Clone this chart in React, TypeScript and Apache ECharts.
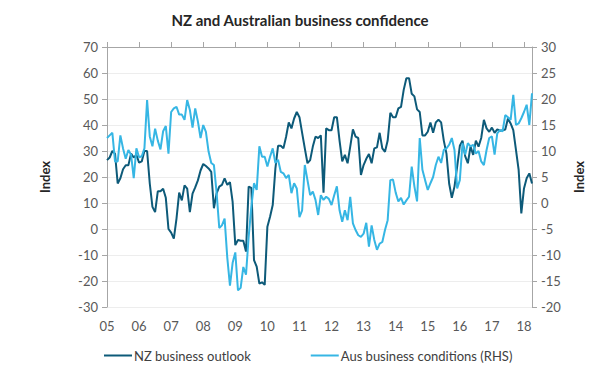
import React, { useEffect, useRef } from 'react';
import * as echarts from 'echarts';

const TITLE = 'NZ and Australian business confidence';
const YEAR_LABELS = ['05', '06', '07', '08', '09', '10', '11', '12', '13', '14', '15', '16', '17', '18'];
const SERIES_NAMES = ['NZ business outlook', 'Aus business conditions (RHS)'];
const AXIS_NAME = 'Index';

// NZ business outlook (left axis), monthly Jan 2005 - Apr 2018
const NZ_OUTLOOK = [
  26.5, 27.5, 30, 29, 17.5, 19.5, 23, 24.5, 24.5, 29, 27.5, 28.5,
  25.5, 26, 30, 30, 17.5, 8.5, 6.5, 14.5, 14.5, 15.5, 12, 0,
  -1.4, -3.7, 4, 14, 11, 16.8, 15.5, 6.5, 13.6, 16, 18.7, 22.5,
  25, 24.2, 23.3, 22, 8, 13.7, 16.3, 17, 19.5, 17, 18, 10.4,
  -6.2, -4.2, -4.5, -4.5, -8.7, 16.3, 15.8, -12, -14.5, -21, -20.5, -21.5,
  0.9, 4.7, 9.2, 23.3, 32, 32, 31, 35.5, 41, 38.7, 42.5, 45,
  43, 37, 31, 25.3, 26.5, 31.7, 35.5, 35, 36, 14, 38.7, 38,
  38, 43, 43, 34, 26, 28.5, 25.3, 31.7, 38.3, 35.5, 35, 20.8,
  24.6, 27, 28.8, 25.3, 31, 31.4, 37, 31, 29.7, 34, 44.7, 43,
  43, 46.4, 47, 53.5, 58, 58, 52, 51, 46, 45, 36, 36,
  37.4, 41, 37, 41, 42, 41, 34, 29, 17.5, 12, 16.3, 24,
  32, 34, 28, 25.3, 31.7, 28.5, 34, 31.7, 35, 42, 38.7, 37.4,
  39, 37, 38.3, 37.8, 38, 38.3, 42.5, 40.6, 38, 30.4, 22.7, 6,
  15.6, 19.5, 21.4, 17.5,
];

// Aus business conditions (right axis), monthly Jan 2005 - Apr 2018
const AUS_CONDITIONS = [
  12.5, 13, 13.5, 8, 8, 13, 10.5, 8.5, 10.2, 9.3, 4.8, 10.5,
  8.8, 9, 10.5, 19.8, 12.8, 10.9, 14.3, 12, 10.3, 13.8, 14.8, 9.5,
  17.5, 18.2, 18.5, 17, 17, 16, 19.8, 17.9, 14.5, 18.2, 15.7, 12.5,
  15, 13.7, 9.9, 7.7, 7.3, 2, -4.8, -4.3, -3, -10.5, -15.9, -11.5,
  -9.5, -16.8, -16.3, -12.3, -13.8, -6.5, -0.7, 3.8, 2.5, 10.9, 8.9, 8.9,
  7, 8.9, 10.5, 7.7, 8.3, 6, 5.7, 4.8, 5.4, 1.9, 3.8, 2.8,
  -2.7, -1.4, 7.3, 4.4, 1.5, 2.2, 0.6, -2.3, 1.5, 0.6, 1.2, 0.8,
  -0.4, 1.5, 3.2, -1.4, -3.6, -1.4, -3.3, 1.2, -3.9, -5.2, -6.2, -6.5,
  -5.9, -3.8, -8.4, -4.3, -7.1, -9, -7.8, -7.5, -5.2, -3.3, 4.4, 4.5,
  2, 0.3, 1, -0.3, 0.5, 1.2, 7, 3.2, 0.3, 12.5, 6.4, 4.4,
  2.5, 3.8, 5, 7.3, 8.9, 7.7, 10.2, 10.5, 11.2, 12.5, 10.2, 2.8,
  4.4, 11.5, 9.3, 11.5, 10.9, 11.2, 9.5, 10, 8, 7.3, 10.2, 12.5,
  12.8, 9.3, 13.4, 14, 13.8, 16.9, 16.5, 16, 20.8, 15, 15.3, 16.3,
  17.5, 18.9, 15, 21.1,
];

const MONTHS = NZ_OUTLOOK.map(
  (_, i) => `${2005 + Math.floor(i / 12)}-${String((i % 12) + 1).padStart(2, '0')}`
);

const FONT = 'Lato';
const AXIS_GREY = '#a6a6a6';
const LABEL_COLOR = '#595959';

export default function App() {
  const ref = useRef<HTMLDivElement>(null);

  useEffect(() => {
    const chart = echarts.init(ref.current!, null, { renderer: 'svg' });
    const yearTick = (i: number) => i % 12 === 0;
    chart.setOption({
      animation: false,
      textStyle: { fontFamily: FONT },
      title: {
        text: TITLE,
        left: 'center',
        top: 7,
        textStyle: { fontFamily: FONT, fontSize: 15, fontWeight: 'bold', color: '#262626' },
      },
      legend: {
        left: 99,
        top: 344,
        itemWidth: 28,
        itemHeight: 2,
        itemGap: 60,
        icon: 'rect',
        textStyle: { fontFamily: FONT, fontSize: 13, color: '#404040', padding: [0, 0, 0, -3] },
        data: SERIES_NAMES,
      },
      grid: { left: 107, right: 68, top: 47, bottom: 63 },
      xAxis: [
        {
          type: 'category',
          data: MONTHS,
          position: 'top',
          boundaryGap: false,
          axisLine: { show: true, onZero: false, lineStyle: { color: AXIS_GREY, width: 1 } },
          axisTick: { show: true, interval: yearTick, length: 5, lineStyle: { color: AXIS_GREY } },
          axisLabel: { show: false },
          splitLine: { show: false },
        },
        {
          type: 'category',
          data: MONTHS,
          position: 'bottom',
          boundaryGap: false,
          axisLine: { show: false, onZero: false },
          axisTick: { show: false },
          axisLabel: {
            interval: yearTick,
            margin: 12,
            fontFamily: FONT,
            fontSize: 13,
            color: LABEL_COLOR,
            formatter: (v: string) => YEAR_LABELS[Number(v.slice(0, 4)) - 2005],
          },
          splitLine: { show: false },
        },
      ],
      yAxis: [
        {
          type: 'value',
          min: -30,
          max: 70,
          interval: 10,
          position: 'left',
          name: AXIS_NAME,
          nameLocation: 'middle',
          nameGap: 56,
          nameRotate: 90,
          nameTextStyle: { fontFamily: FONT, fontSize: 13, fontWeight: 'bold', color: '#262626' },
          axisLine: { show: true, lineStyle: { color: AXIS_GREY } },
          axisTick: { show: true, length: 5, lineStyle: { color: AXIS_GREY } },
          axisLabel: { fontFamily: FONT, fontSize: 13, color: LABEL_COLOR, margin: 9 },
          splitLine: { show: true, lineStyle: { color: '#ededed' } },
        },
        {
          type: 'value',
          min: -20,
          max: 30,
          interval: 5,
          position: 'right',
          name: AXIS_NAME,
          nameLocation: 'middle',
          nameGap: 40,
          nameRotate: 90,
          nameTextStyle: { fontFamily: FONT, fontSize: 13, fontWeight: 'bold', color: '#262626' },
          axisLine: { show: true, lineStyle: { color: AXIS_GREY } },
          axisTick: { show: true, length: 5, lineStyle: { color: AXIS_GREY } },
          axisLabel: { fontFamily: FONT, fontSize: 13, color: LABEL_COLOR, margin: 9 },
          splitLine: { show: false },
        },
      ],
      series: [
        {
          name: SERIES_NAMES[0],
          type: 'line',
          xAxisIndex: 0,
          yAxisIndex: 0,
          data: NZ_OUTLOOK,
          symbol: 'none',
          itemStyle: { color: '#0d5a79' },
          lineStyle: { color: '#0d5a79', width: 2 },
        },
        {
          name: SERIES_NAMES[1],
          type: 'line',
          xAxisIndex: 0,
          yAxisIndex: 1,
          data: AUS_CONDITIONS,
          symbol: 'none',
          itemStyle: { color: '#36b6e4' },
          lineStyle: { color: '#36b6e4', width: 2 },
        },
      ],
    });
    return () => chart.dispose();
  }, []);

  return (
    <div
      ref={ref}
      style={{ position: 'fixed', left: 0, top: 0, width: 600, height: 370, background: '#ffffff' }}
    />
  );
}
